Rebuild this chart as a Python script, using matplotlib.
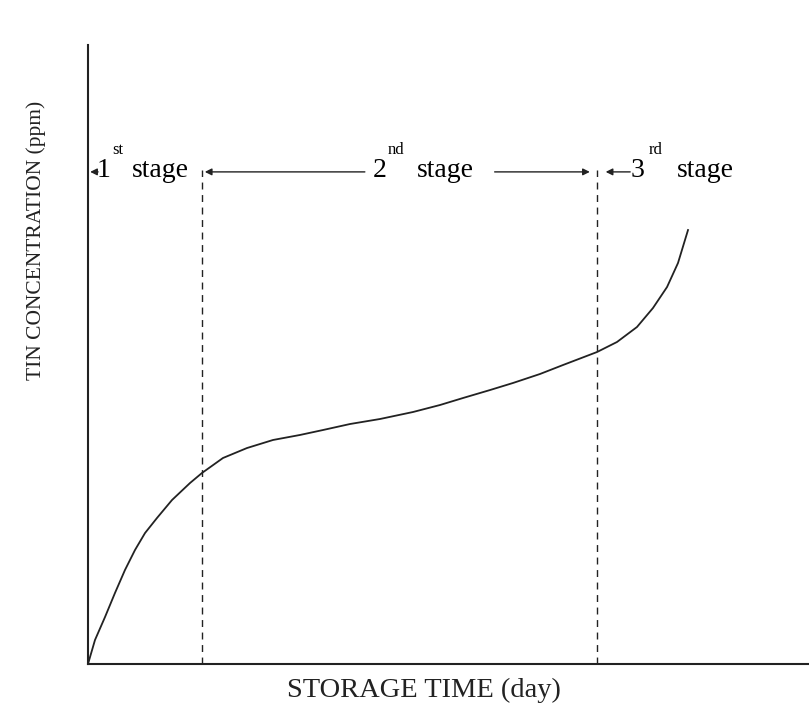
import numpy as np
import matplotlib
matplotlib.use("Agg")
import matplotlib.pyplot as plt

plt.rcParams['font.family'] = ['Liberation Serif', 'DejaVu Serif']

# curve (storage time, tin concentration, arbitrary units)
days = [0, 0.97, 2.36, 3.74, 5.13, 6.52, 7.91, 9.57, 11.65, 14.15, 15.81,
        18.72, 22.05, 25.66, 29.40, 32.59, 36.34, 40.50, 45.08, 48.82, 52.01,
        55.76, 58.95, 62.69, 65.88, 70.60, 73.37, 76.14, 78.36, 80.31, 81.83, 83.22]
tin = [0, 3.88, 7.59, 11.47, 15.19, 18.42, 21.16, 23.59, 26.49, 29.24, 30.86,
       33.28, 34.89, 36.19, 37.00, 37.80, 38.77, 39.58, 40.71, 41.84, 42.97,
       44.26, 45.40, 46.85, 48.30, 50.40, 52.02, 54.44, 57.51, 60.90, 64.78, 70.11]

# stage boundaries
bounds = [15.8, 70.6]
bound_top = 79.8

fig = plt.figure(figsize=(8.09, 7.15), dpi=100)
ax = fig.add_axes([88/809, 51/715, 721/809, 619/715])
ax.set_xlim(0, 100)
ax.set_ylim(0, 100)

ax.plot(days, tin, color='#222222', lw=1.3)
for b in bounds:
    ax.plot([b, b], [0, bound_top], color='#222222', lw=1.0, ls=(0, (5, 4)))

for s in ['top', 'right']:
    ax.spines[s].set_visible(False)
for s in ['left', 'bottom']:
    ax.spines[s].set_linewidth(1.5)
    ax.spines[s].set_color('#222222')
ax.set_xticks([])
ax.set_yticks([])

ya = 79.5   # arrow height
yb = 78.7   # text baseline
ys = 82.4   # superscript baseline
fs = 20
fss = 12
arr = dict(arrowstyle='-|>', color='#222222', lw=1.0, mutation_scale=10, shrinkA=0, shrinkB=0)

ax.annotate('', xy=(0.3, ya), xytext=(1.4, ya), arrowprops=arr)
ax.text(1.25, yb, '1', fontsize=fs, va='baseline')
ax.text(3.3, ys, 'st', fontsize=fss, va='baseline')
ax.text(6.1, yb, 'stage', fontsize=fs, va='baseline')

ax.annotate('', xy=(16.2, ya), xytext=(38.4, ya), arrowprops=arr)
ax.text(39.5, yb, '2', fontsize=fs, va='baseline')
ax.text(41.6, ys, 'nd', fontsize=fss, va='baseline')
ax.text(45.6, yb, 'stage', fontsize=fs, va='baseline')
ax.annotate('', xy=(69.6, ya), xytext=(56.4, ya), arrowprops=arr)

ax.annotate('', xy=(71.8, ya), xytext=(75.2, ya), arrowprops=arr)
ax.text(75.2, yb, '3', fontsize=fs, va='baseline')
ax.text(77.8, ys, 'rd', fontsize=fss, va='baseline')
ax.text(81.7, yb, 'stage', fontsize=fs, va='baseline')

fig.text(424/809, 1 - 690/715, 'STORAGE TIME (day)', fontsize=20.5, ha='center', va='center', color='#222222')
fig.text(36/809, 1 - 240/715, 'TIN CONCENTRATION (ppm)', fontsize=15.5, rotation=90,
         ha='center', va='center', color='#222222')

fig.savefig('out.png', dpi=100)
